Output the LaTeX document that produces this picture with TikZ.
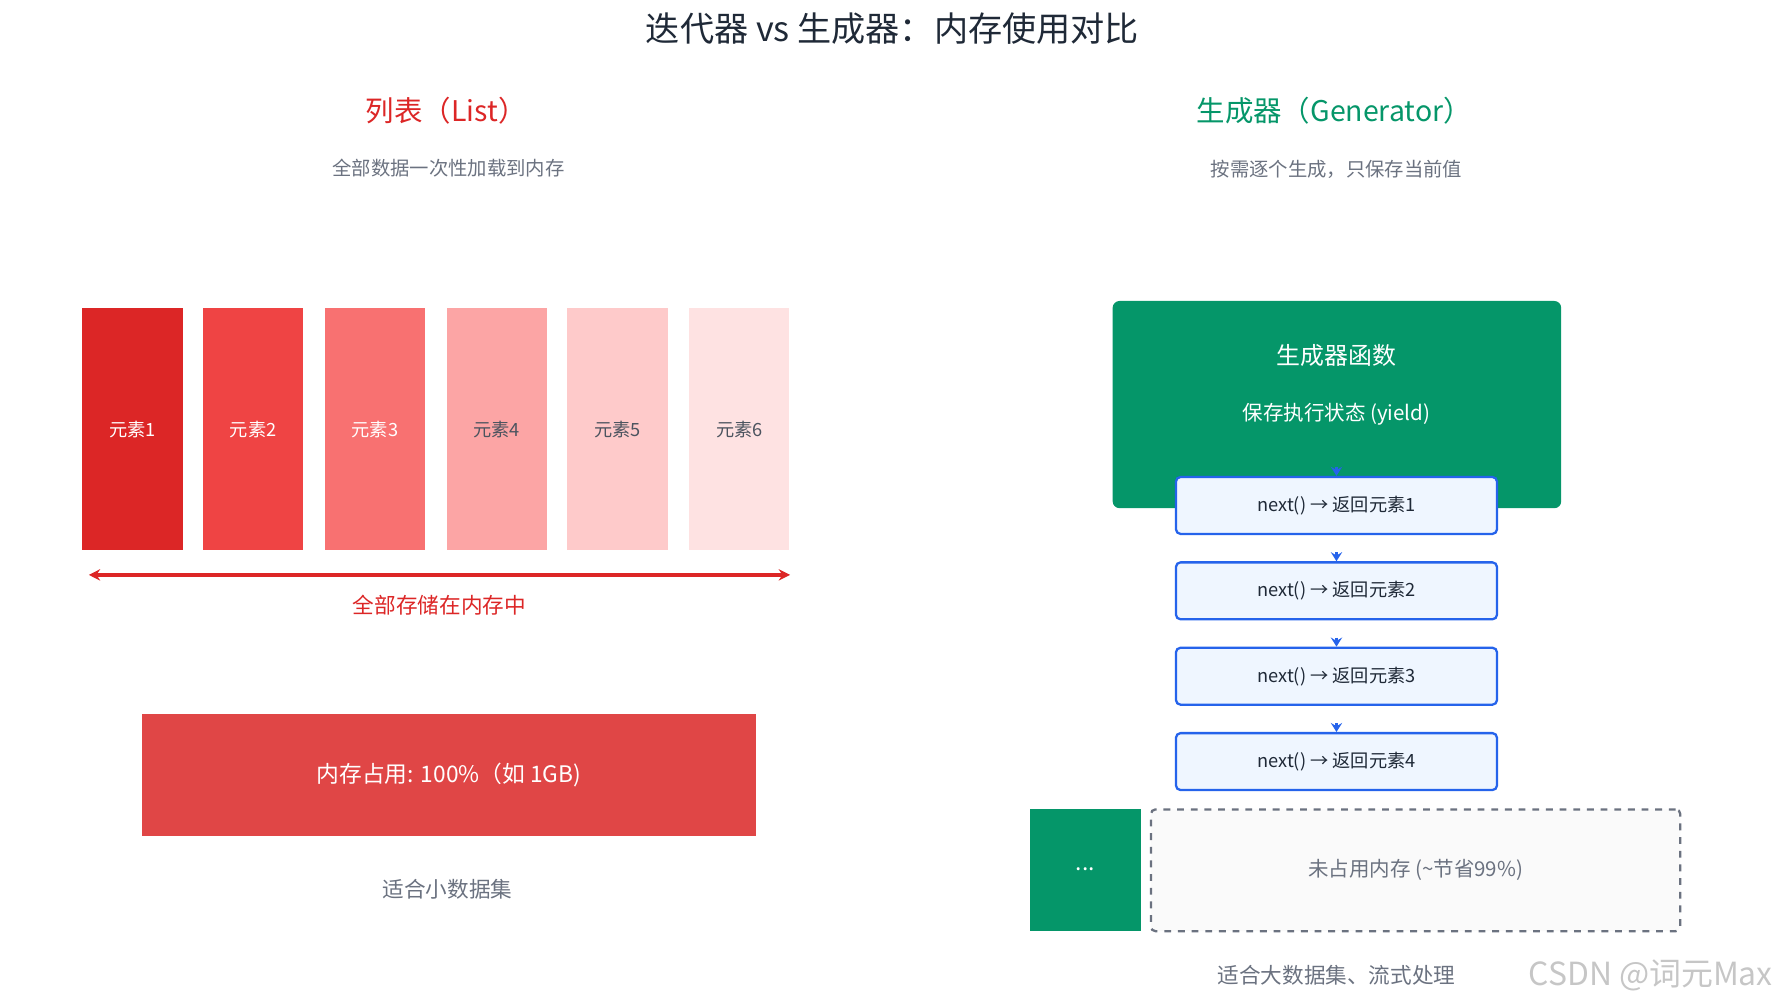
\documentclass[tikz,border=0pt]{standalone}
\usepackage{fontspec}
\setmainfont{Noto Sans CJK SC}
\usetikzlibrary{arrows.meta}
\definecolor{r1}{HTML}{DC2626}\definecolor{r2}{HTML}{EF4444}\definecolor{r3}{HTML}{F87171}
\definecolor{r4}{HTML}{FCA5A5}\definecolor{r5}{HTML}{FECACA}\definecolor{r6}{HTML}{FEE2E2}
\definecolor{memred}{HTML}{E04646}\definecolor{gr}{HTML}{059669}\definecolor{txt}{HTML}{1F2937}
\definecolor{gry}{HTML}{6B7280}\definecolor{bl}{HTML}{2563EB}\definecolor{blf}{HTML}{EFF6FF}
\newcommand{\fs}[1]{\fontsize{#1pt}{#1pt}\selectfont}
\begin{document}
\begin{tikzpicture}[x=0.5pt,y=-0.5pt,
 bar/.style={minimum width=44pt,minimum height=106.5pt,inner sep=0,anchor=north west,font=\fs{8}},
 nbox/.style={draw=bl,line width=1pt,fill=blf,rounded corners=2pt,minimum width=141pt,minimum height=25pt,inner sep=0,anchor=north,text=txt,font=\fs{8}},
 narr/.style={draw=bl,line width=1pt,-{Stealth[length=4pt,width=5pt,inset=1.5pt]}}]
\useasboundingbox (0,0) rectangle (1568,882);
\node (title) at (784,25) {\fs{15}\color{txt}迭代器 vs 生成器：内存使用对比};
\node (lt) at (392,97) {\fs{12.5}\color{r1}列表（List）};
\node (ls) at (394,148) {\fs{8.5}\color{gry}全部数据一次性加载到内存};
\node (rt) at (1172,97) {\fs{12.5}\color{gr}生成器（Generator）};
\node (rs) at (1174,149) {\fs{8.5}\color{gry}按需逐个生成，只保存当前值};
\node[bar,fill=r1,text=white] (b1) at (72,270) {元素1};
\node[bar,fill=r2,text=white] (b2) at (178,270) {元素2};
\node[bar,fill=r3,text=white] (b3) at (285,270) {元素3};
\node[bar,fill=r4,text=txt!80] (b4) at (392,270) {元素4};
\node[bar,fill=r5,text=txt!80] (b5) at (498,270) {元素5};
\node[bar,fill=r6,text=txt!80] (b6) at (605,270) {元素6};
\coordinate (al) at (78,505); \coordinate (ar) at (694,505);
\draw[r1,line width=1.5pt,{Stealth[length=5pt,width=5pt]}-{Stealth[length=5pt,width=5pt]}] (al) -- (ar);
\node (alab) at (386,532) {\fs{9.5}\color{r1}全部存储在内存中};
\node[fill=memred,minimum width=270pt,minimum height=53.5pt,anchor=north west,inner sep=0,text=white,font=\fs{10}] (mem) at (124,627) {内存占用: 100\%（如 1GB)};
\node (small) at (393,781) {\fs{9.5}\color{gry}适合小数据集};
\node[fill=gr,rounded corners=3pt,minimum width=197pt,minimum height=91pt,anchor=north west,inner sep=0] (gen) at (977,264) {};
\node (gt) at (1174,312) {\fs{10.5}\color{white}生成器函数};
\node (gs) at (1174,364) {\fs{9}\color{white}保存执行状态 (yield)};
\node[nbox] (n1) at (1174,418) {next() → 返回元素1};
\node[nbox] (n2) at (1174,493) {next() → 返回元素2};
\node[nbox] (n3) at (1174,568) {next() → 返回元素3};
\node[nbox] (n4) at (1174,643) {next() → 返回元素4};
\coordinate (c1) at (1174,410);
\coordinate (c2) at (1174,485);
\coordinate (c3) at (1174,560);
\coordinate (c4) at (1174,635);
\draw[narr] (c1) -- (n1.north);
\draw[narr] (c2) -- (n2.north);
\draw[narr] (c3) -- (n3.north);
\draw[narr] (c4) -- (n4.north);
\node[fill=gr,minimum width=49pt,minimum height=53.5pt,anchor=north west,inner sep=0,text=white,font=\fs{10}] (dots) at (904,710) {...};
\node[draw=gry,dashed,line width=1pt,fill=gray!4,rounded corners=2pt,minimum width=232.5pt,minimum height=53.5pt,anchor=north west,inner sep=0,text=gry,font=\fs{9}] (free) at (1010,710) {未占用内存 (\textasciitilde 节省99\%)};
\node (big) at (1174,857) {\fs{9.5}\color{gry}适合大数据集、流式处理};
\node (wm) at (1450,857) {\fs{14}\color{gray!45}CSDN @词元Max};
\end{tikzpicture}
\end{document}
